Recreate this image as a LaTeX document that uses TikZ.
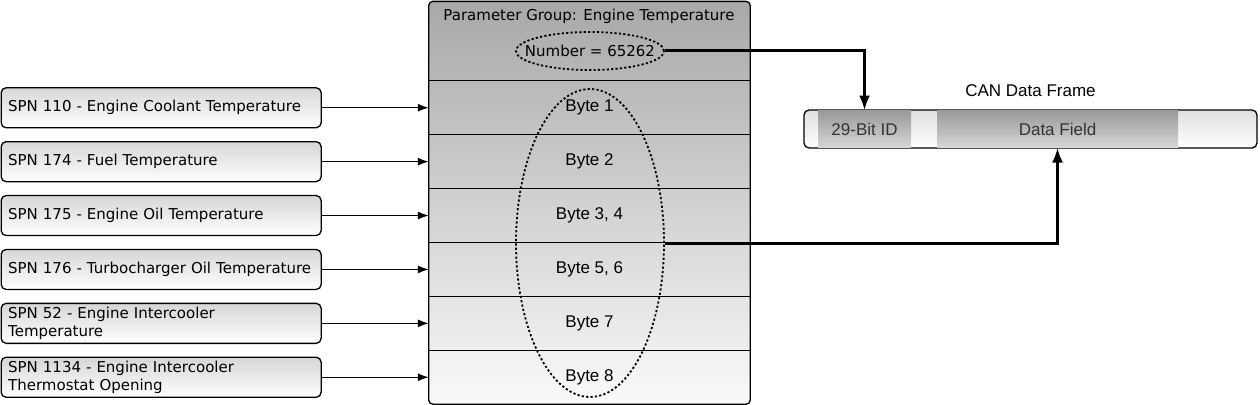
\documentclass[tikz,border=0pt]{standalone}
\usepackage{fontspec}
\setmainfont{DejaVu Sans}
\newfontfamily\arialfont{Liberation Sans}
\usetikzlibrary{arrows.meta, shapes.geometric, positioning, backgrounds, fit}

\begin{document}
\begin{tikzpicture}[x=1pt, y=-1pt]
% Define styles
\tikzstyle{spn} = [rectangle, rounded corners=5pt, minimum width=320pt, minimum height=40pt, text width=306pt, align=left, draw=black, line width=1.3pt, top color=black!16, bottom color=white, font=\fontsize{15}{18}\selectfont, inner sep=0pt]
\tikzstyle{bytebox} = [rectangle, minimum width=321pt, minimum height=53.5pt, inner sep=0pt, font=\arialfont\fontsize{17}{20}\selectfont]
\tikzstyle{dotring} = [ellipse, draw=black, line width=1.8pt, dash pattern=on 2.2pt off 2.2pt, inner sep=0pt]
\tikzstyle{segment} = [rectangle, minimum height=36.6pt, inner sep=0pt, top color=black!40, bottom color=black!16, text=black!80, font=\arialfont\fontsize{17}{20}\selectfont]
\tikzstyle{arrow} = [line width=1.3pt, -{Latex[length=11pt, width=8pt]}]
\tikzstyle{bigarrow} = [line width=3pt, -{Latex[length=15pt, width=11pt]}]
\tikzstyle{rowline} = [line width=0.9pt]

\useasboundingbox (0,0) rectangle (1260,404);

% Parameter group rows
\node (row1) [bytebox] at (589.5,107.75) {Byte 1};
\node (row2) [bytebox, below=0pt of row1] {Byte 2};
\node (row3) [bytebox, below=0pt of row2] {Byte 3, 4};
\node (row4) [bytebox, below=0pt of row3] {Byte 5, 6};
\node (row5) [bytebox, below=0pt of row4] {Byte 7};
\node (row6) [bytebox, below=0pt of row5] {Byte 8};
\node (header) [bytebox, minimum height=79pt, above=0pt of row1] {};
\node (pgtitle) [font=\fontsize{15}{18}\selectfont, inner sep=0pt] at (589,16) {Parameter Group: Engine Temperature};
\node (pgn) [dotring, minimum width=148pt, minimum height=38pt] at (590,51) {};
\node (pgntext) [font=\fontsize{15}{18}\selectfont, inner sep=0pt] at (pgn.center) {Number = 65262};
\node (bytes) [dotring, minimum width=148pt, minimum height=308pt] at (590,243) {};

\begin{scope}[on background layer]
\node (pgbox) [fit=(header) (row6), inner sep=0pt, rounded corners=4pt, draw=black, line width=1.3pt, top color=black!34, bottom color=black!2] {};
\end{scope}
\foreach \r in {header,row1,row2,row3,row4,row5}
  \draw[rowline] (\r.south west) -- (\r.south east);

% SPN boxes
\node (spn1) [spn, left=107pt of row1] {SPN 110 - Engine Coolant Temperature};
\node (spn2) [spn, left=107pt of row2] {SPN 174 - Fuel Temperature};
\node (spn3) [spn, left=107pt of row3] {SPN 175 - Engine Oil Temperature};
\node (spn4) [spn, left=107pt of row4] {SPN 176 - Turbocharger Oil Temperature};
\node (spn5) [spn, left=107pt of row5] {SPN 52 - Engine Intercooler\\Temperature};
\node (spn6) [spn, left=107pt of row6] {SPN 1134 - Engine Intercooler\\Thermostat Opening};

\foreach \i in {1,...,6}
  \draw[arrow] (spn\i) -- (row\i);

% CAN frame
\node (frame) [rectangle, rounded corners=5pt, minimum width=453pt, minimum height=38pt, draw=black, line width=1.3pt, top color=black!12, bottom color=white] at (1030.5,129) {};
\node (canid) [segment, minimum width=93pt] at (864.5,129) {29-Bit ID};
\node (data) [segment, minimum width=241pt] at (1057.5,129) {Data Field};
\node (canlabel) [above=12pt of frame, inner sep=0pt, font=\arialfont\fontsize{17}{20}\selectfont] {CAN Data Frame};

% Connections
\draw[bigarrow] (pgn.east) -| (canid.north);
\draw[bigarrow] (bytes.east) -| (data.south);

\end{tikzpicture}
\end{document}
